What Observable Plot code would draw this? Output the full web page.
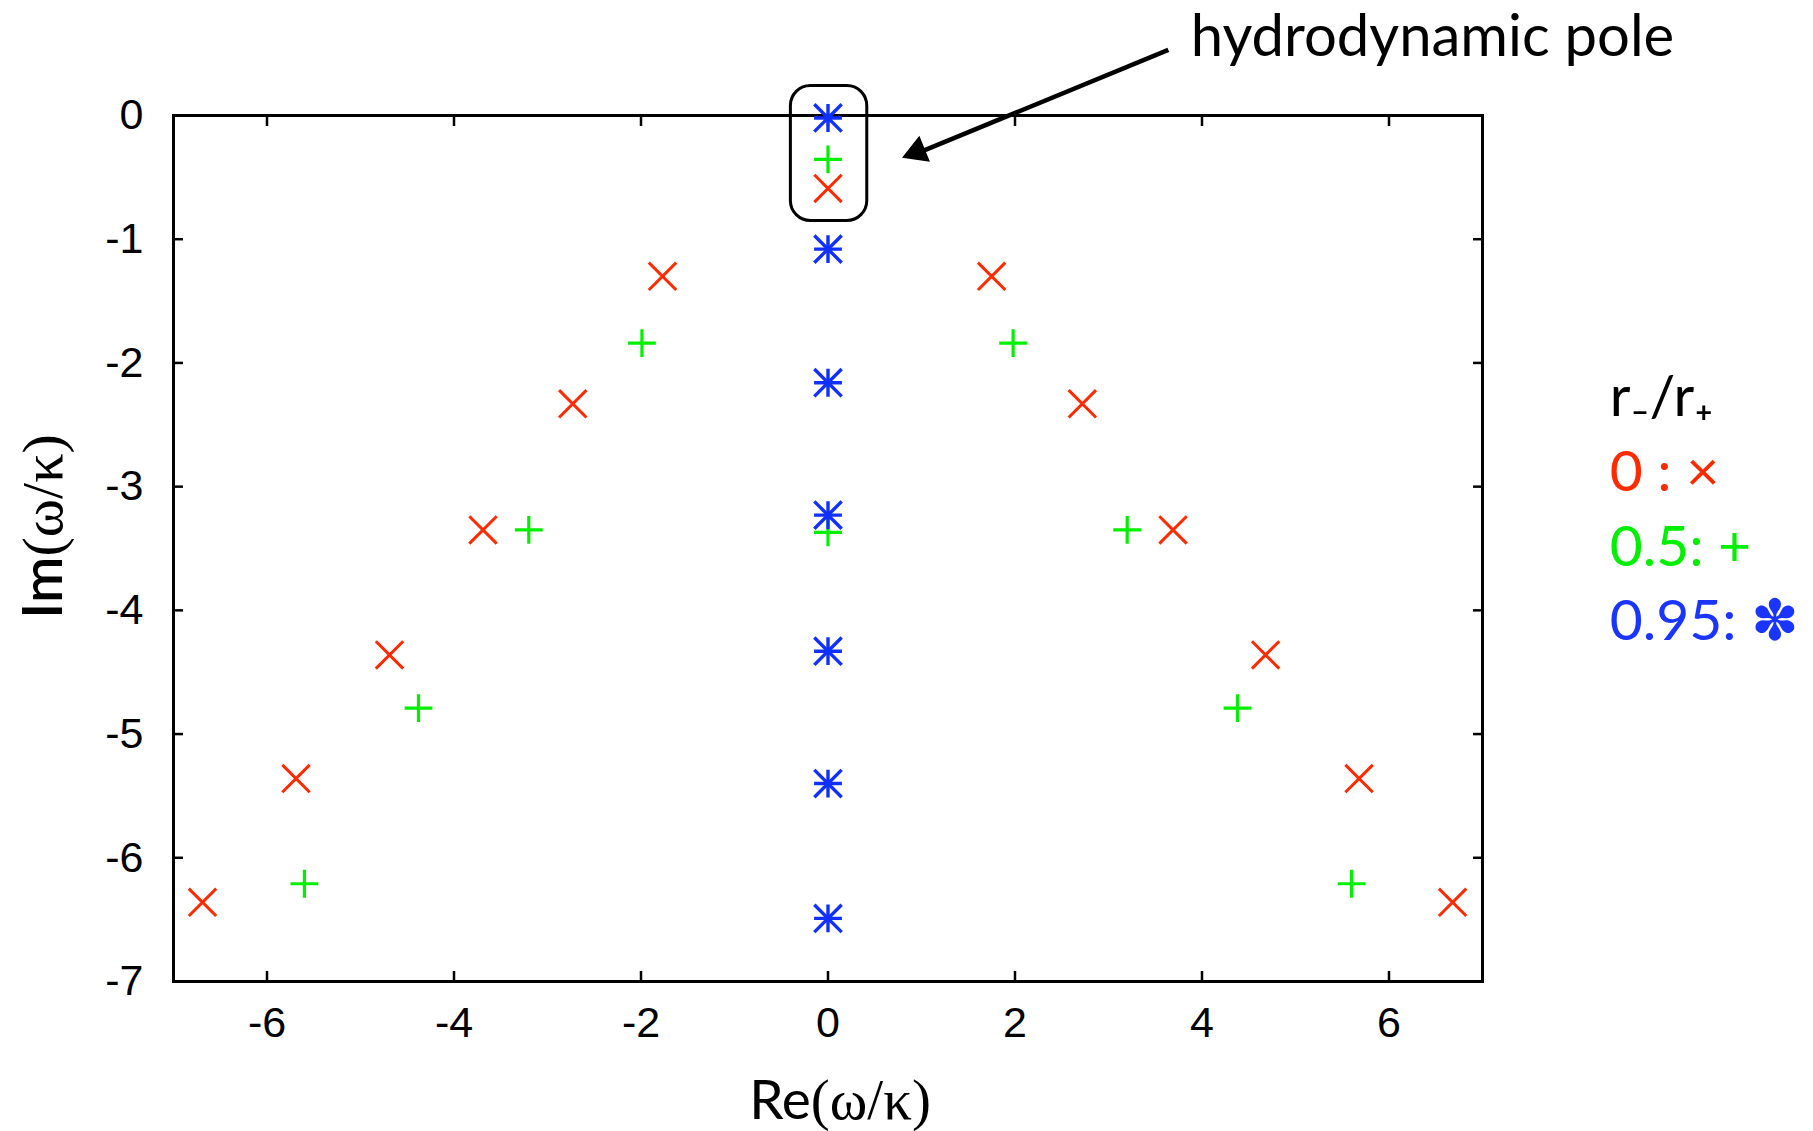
<!DOCTYPE html>
<html>
<head>
<meta charset="utf-8">
<script src="https://cdn.jsdelivr.net/npm/d3@7"></script>
<script src="https://cdn.jsdelivr.net/npm/@observablehq/plot@0.6"></script>
<style>
  body { margin: 0; background: #fff; }
  svg { display: block; }
</style>
</head>
<body>
<div id="chart"></div>
<script>
// ---- data ----
const xTicks = [-6, -4, -2, 0, 2, 4, 6];
const yTicks = [0, -1, -2, -3, -4, -5, -6, -7];

// r-/r+ = 0  (×)
const re0 = [0, -1.77, 1.75, -2.73, 2.72, -3.69, 3.69, -4.69, 4.68, -5.69, 5.68, -6.69, 6.68];
const im0 = [-0.59, -1.30, -1.30, -2.33, -2.33, -3.35, -3.35, -4.36, -4.36, -5.36, -5.36, -6.36, -6.36];

// r-/r+ = 0.5  (+)
const re05 = [0, -1.99, 1.98, -3.20, 3.20, 0, -4.38, 4.38, -5.60, 5.60];
const im05 = [-0.355, -1.84, -1.84, -3.35, -3.35, -3.37, -4.79, -4.79, -6.21, -6.21];

// r-/r+ = 0.95  (*)
const re095 = [0, 0, 0, 0, 0, 0, 0];
const im095 = [-0.02, -1.08, -2.16, -3.23, -4.33, -5.40, -6.49];

const legendLabels = ["r\u208B/r\u208A", "0 : \u00D7", "0.5: +", "0.95: \u273D"];
const legendColors = ["#000000", "#ff2a00", "#00f000", "#1a35ff"];

const annotationText = ["hydrodynamic pole"];
const xLabel = ["Re", "(\u03C9/\u03BA)"];
const yLabel = ["Im", "(\u03C9/\u03BA)"];

// ---- build tables ----
const toRows = (re, im) => re.map((x, i) => ({x, y: im[i]}));
const s0 = toRows(re0, im0);
const s05 = toRows(re05, im05);
const s095 = toRows(re095, im095);

const legendRows = legendLabels.map((t, i) => ({t, c: legendColors[i], y: [-2.43, -3.035, -3.64, -4.24][i]}));

const red = "#ff2a00", green = "#00f000", blue = "#1030ff";
const tickFont = "'Liberation Sans', Arial, Helvetica, sans-serif";
const labelFont = "Lato, 'Open Sans', sans-serif";
const serifFont = "'Liberation Serif', 'DejaVu Serif', serif";
const fmt = d => String(d);

const chart = Plot.plot({
  width: 1813,
  height: 1131,
  marginLeft: 173,
  marginRight: 331,
  marginTop: 115,
  marginBottom: 150,
  x: {domain: [-7, 7]},
  y: {domain: [-7, 0]},
  style: {fontFamily: tickFont, fontSize: "42px", background: "#fff", color: "#000", overflow: "visible"},
  marks: [
    // tick labels
    Plot.axisX({anchor: "bottom", ticks: xTicks, tickSize: 0, tickPadding: 25, tickFormat: fmt, label: null, fontSize: 43}),
    Plot.axisY({anchor: "left", ticks: yTicks, tickSize: 0, tickPadding: 30, tickFormat: fmt, label: null, fontSize: 43}),
    // inward ticks on all four sides
    Plot.axisX({anchor: "bottom", ticks: xTicks, tickSize: -10, strokeWidth: 2.5, tickFormat: () => "", label: null}),
    Plot.axisX({anchor: "top", ticks: xTicks, tickSize: -10, strokeWidth: 2.5, tickFormat: () => "", label: null}),
    Plot.axisY({anchor: "left", ticks: yTicks, tickSize: -10, strokeWidth: 2.5, tickFormat: () => "", label: null}),
    Plot.axisY({anchor: "right", ticks: yTicks, tickSize: -10, strokeWidth: 2.5, tickFormat: () => "", label: null}),
    Plot.frame({stroke: "#000", strokeWidth: 3}),
    // data
    Plot.dot(s0, {x: "x", y: "y", symbol: "times", r: 12.5, stroke: red, strokeWidth: 3}),
    Plot.dot(s05, {x: "x", y: "y", symbol: "plus", r: 9, stroke: green, strokeWidth: 3.2}),
    Plot.dot(s095, {x: "x", y: "y", symbol: "plus", r: 9, stroke: blue, strokeWidth: 3.4}),
    Plot.dot(s095, {x: "x", y: "y", symbol: "times", r: 12.5, stroke: blue, strokeWidth: 3.4}),
    // hydrodynamic pole box + arrow + text
    Plot.rect([{x1: -0.397, x2: 0.42, y1: 0.238, y2: -0.853}], {x1: "x1", x2: "x2", y1: "y1", y2: "y2", fill: "none", stroke: "#000", strokeWidth: 3, rx: 20}),
    Plot.link([{x1: 3.64, y1: 0.53, x2: 0.97, y2: -0.30}], {x1: "x1", y1: "y1", x2: "x2", y2: "y2", stroke: "#000", strokeWidth: 4.5}),
    Plot.dot([{x: 0.953, y: -0.293}], {x: "x", y: "y", symbol: "triangle", r: 9.5, rotate: 248, fill: "#000", stroke: "#000", strokeWidth: 1.5}),
    Plot.text(annotationText, {x: 3.88, y: 0.477, text: d => d, textAnchor: "start", lineAnchor: "bottom", fontFamily: labelFont, fontSize: 58, fill: "#000"}),
    // legend
    Plot.text(legendRows, {x: 8.36, y: "y", text: "t", fill: "c", textAnchor: "start", lineAnchor: "bottom", fontFamily: labelFont, fontSize: 57}),
    // axis titles
    Plot.text([xLabel.join("")], {frameAnchor: "bottom", dx: 12, dy: 120, text: d => d, textAnchor: "middle", lineAnchor: "middle", fontFamily: labelFont, fontSize: 55, fill: "#000", className: "xlab"}),
    Plot.text([yLabel.join("")], {frameAnchor: "left", dx: -129, dy: -22, rotate: -90, text: d => d, textAnchor: "middle", lineAnchor: "middle", fontFamily: labelFont, fontSize: 56, fontWeight: 600, fill: "#000", className: "ylab"})
  ]
});

// give the Greek part of the axis titles a serif face, as in the reference
function splitTitle(cls, parts, size) {
  const t = chart.querySelector(`g.${cls} text`);
  if (!t) return;
  t.textContent = "";
  parts.forEach((p, i) => {
    const ts = document.createElementNS("http://www.w3.org/2000/svg", "tspan");
    ts.textContent = p;
    if (i > 0) { ts.setAttribute("font-family", serifFont); ts.setAttribute("font-size", size); ts.setAttribute("font-weight", "normal"); }
    t.appendChild(ts);
  });
}
splitTitle("xlab", xLabel, "57");
splitTitle("ylab", yLabel, "58");

document.getElementById("chart").appendChild(chart);
</script>
</body>
</html>
